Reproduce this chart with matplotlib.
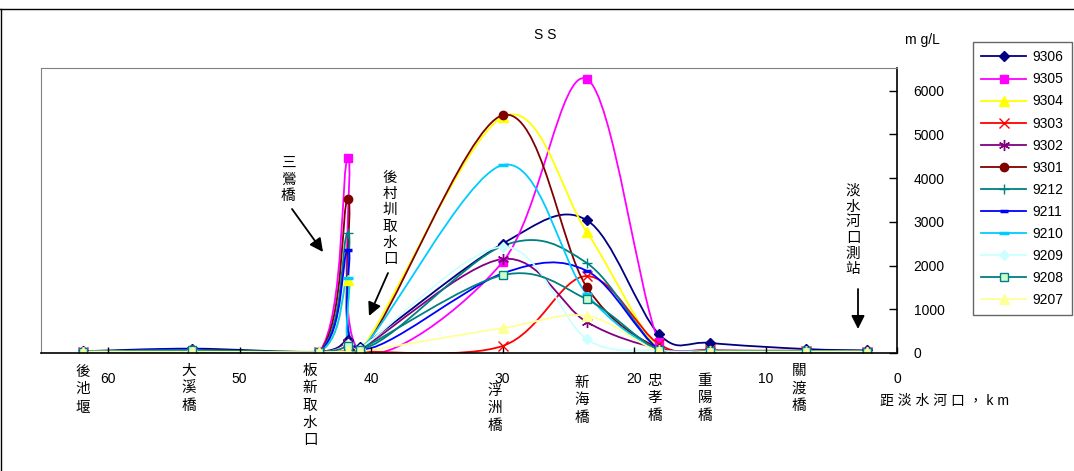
import matplotlib
matplotlib.use('Agg')
import matplotlib.pyplot as plt
import numpy as np
from matplotlib.path import Path
from matplotlib.patches import PathPatch
from matplotlib.lines import Line2D

plt.rcParams['font.family'] = ['Liberation Sans', 'Noto Sans CJK TC', 'DejaVu Sans']

# stations along the river, distance from the river mouth (km)
stations = ['後池堰', '大溪橋', '板新取水口', '三鶯橋', '後村圳取水口', '浮洲橋',
            '新海橋', '忠孝橋', '重陽橋', '關渡橋', '淡水河口測站']
km = [61.9, 53.6, 43.95, 41.75, 40.84, 30.0, 23.6, 18.1, 14.2, 6.9, 2.3]

# SS (mg/L) per sampling month, one value per station
ss_9306 = [40, 100, 30, 300, 130, 2500, 3040, 430, 230, 90, 60]
ss_9305 = [30, 50, 20, 4460, 50, 2080, 6270, 250, 50, 40, 30]
ss_9304 = [30, 60, 30, 1680, 60, 5400, 2770, 80, 50, 40, 30]
ss_9303 = [30, 30, 20, 50, 30, 160, 1760, 200, 60, 50, 30]
ss_9302 = [30, 60, 20, 250, 80, 2150, 710, 100, 60, 50, 40]
ss_9301 = [30, 50, 20, 3520, 60, 5440, 1510, 100, 50, 40, 30]
ss_9212 = [30, 60, 30, 2750, 100, 2450, 2060, 80, 40, 40, 30]
ss_9211 = [30, 80, 30, 2360, 80, 1820, 1880, 80, 40, 40, 30]
ss_9210 = [30, 60, 30, 1720, 80, 4300, 1350, 60, 40, 40, 30]
ss_9209 = [30, 50, 20, 200, 100, 2430, 320, 60, 40, 40, 30]
ss_9208 = [30, 60, 30, 150, 80, 1780, 1230, 60, 40, 40, 30]
ss_9207 = [30, 30, 20, 40, 30, 570, 850, 40, 30, 30, 30]

series = [
    ('9306', ss_9306, dict(color='#000080', marker='D', ms=5, mfc='#000080', mec='#000080')),
    ('9305', ss_9305, dict(color='#FF00FF', marker='s', ms=6, mfc='#FF00FF', mec='#FF00FF')),
    ('9304', ss_9304, dict(color='#FFFF00', marker='^', ms=7, mfc='#FFFF00', mec='#FFFF00')),
    ('9303', ss_9303, dict(color='#FF0000', marker='x', ms=7, mfc='#FF0000', mec='#FF0000')),
    ('9302', ss_9302, dict(color='#800080', marker=(6, 2, 0), ms=8, mfc='#800080', mec='#800080')),
    ('9301', ss_9301, dict(color='#800000', marker='o', ms=6, mfc='#800000', mec='#800000')),
    ('9212', ss_9212, dict(color='#008080', marker='+', ms=7, mfc='#008080', mec='#008080')),
    ('9211', ss_9211, dict(color='#0000FF', marker='_', ms=6, mfc='#0000FF', mec='#0000FF')),
    ('9210', ss_9210, dict(color='#00CCFF', marker='_', ms=7, mfc='#00CCFF', mec='#00CCFF')),
    ('9209', ss_9209, dict(color='#CCFFFF', marker='D', ms=5, mfc='#CCFFFF', mec='#CCFFFF')),
    ('9208', ss_9208, dict(color='#008080', marker='s', ms=6, mfc='#CCFFCC', mec='#008080')),
    ('9207', ss_9207, dict(color='#FFFF99', marker='^', ms=7, mfc='#FFFF99', mec='#FFFF99')),
]

W, H = 1074, 471


def fx(px):
    return px / W


def fy(py):
    return 1 - py / H


def smooth_path(x, y):
    # Excel style smoothed line: cubic bezier through the points
    pts = np.column_stack([x, y]).astype(float)
    n = len(pts)
    verts = [pts[0]]
    codes = [Path.MOVETO]
    for i in range(n - 1):
        p0 = pts[max(i - 1, 0)]
        p1 = pts[i]
        p2 = pts[i + 1]
        p3 = pts[min(i + 2, n - 1)]
        c1 = p1 + (p2 - p0) / 6.0
        c2 = p2 - (p3 - p1) / 6.0
        verts += [c1, c2, p2]
        codes += [Path.CURVE4] * 3
    return Path(verts, codes)


fig = plt.figure(figsize=(W / 100, H / 100), dpi=100)
ax = fig.add_axes([fx(41), fy(353), fx(897) - fx(41), fy(68) - fy(353)])

handles = []
for name, vals, st in series:
    patch = PathPatch(smooth_path(km, vals), facecolor='none', edgecolor=st['color'],
                      lw=1.3)
    ax.add_patch(patch)
    mew = 2.5 if st['marker'] == '_' else 1.0
    ax.plot(km, vals, linestyle='none', marker=st['marker'], ms=st['ms'],
            mfc=st['mfc'], mec=st['mec'], mew=mew)
    handles.append(Line2D([], [], color=st['color'], lw=1.3, marker=st['marker'],
                          ms=st['ms'], mfc=st['mfc'], mec=st['mec'], mew=mew))

ax.set_xlim(65.1, 0)
ax.set_ylim(0, 6520)
ax.set_xticks([60, 50, 40, 30, 20, 10, 0])
ax.set_xticklabels(['60', '50', '40', '30', '20', '10', '0'])
ax.set_yticks([0, 1000, 2000, 3000, 4000, 5000, 6000])
ax.yaxis.tick_right()
ax.tick_params(axis='y', direction='in', length=6, width=1, pad=12, labelsize=10)
ax.tick_params(axis='x', direction='in', length=4, width=1, pad=14, labelsize=10)
for lab in ax.get_yticklabels():
    lab.set_horizontalalignment('left')

ax.spines['left'].set_color('#808080')
ax.spines['top'].set_color('#808080')
ax.spines['bottom'].set_color('#000000')
ax.spines['right'].set_color('#000000')
ax.spines['bottom'].set_linewidth(1.2)
ax.spines['right'].set_linewidth(1.2)

cjk = ['Noto Sans CJK TC', 'DejaVu Sans']

# station names written vertically under the axis
label_px = [83, 189, 310, None, None, 495, 582, 655, 705, 799, None]
label_top = [365, 364, 364, None, None, 384, 376, 374, 374, 364, None]
for name, px, top in zip(stations, label_px, label_top):
    if px is None:
        continue
    fig.text(fx(px), fy(top), '\n'.join(name), ha='center', va='top',
             fontsize=10.5, linespacing=1.3, family=cjk)

# annotated stations with arrows
fig.text(fx(288), fy(156), '\n'.join('三鶯橋'), ha='center', va='top',
         fontsize=10.5, linespacing=1.25, family=cjk)
fig.text(fx(390), fy(171), '\n'.join('後村圳取水口'), ha='center', va='top',
         fontsize=10.5, linespacing=1.2, family=cjk)
fig.text(fx(853), fy(184), '\n'.join('淡水河口測站'), ha='center', va='top',
         fontsize=10.5, linespacing=1.15, family=cjk)

arrow = dict(arrowstyle='-|>', color='black', lw=1.3, mutation_scale=20,
             shrinkA=0, shrinkB=0)
ax.annotate('', xy=(fx(323), fy(252)), xycoords='figure fraction',
            xytext=(fx(292), fy(209)), textcoords='figure fraction', arrowprops=arrow)
ax.annotate('', xy=(fx(369), fy(316)), xycoords='figure fraction',
            xytext=(fx(388), fy(273)), textcoords='figure fraction', arrowprops=arrow)
ax.annotate('', xy=(fx(858), fy(329)), xycoords='figure fraction',
            xytext=(fx(858), fy(289)), textcoords='figure fraction', arrowprops=arrow)

fig.text(fx(545), fy(35), 'S S', ha='center', va='center', fontsize=10)
fig.text(fx(905), fy(40), 'm g/L', ha='left', va='center', fontsize=10)
fig.text(fx(880), fy(401), '距 淡 水 河 口 ， k m', ha='left', va='center',
         fontsize=10, family=['Liberation Sans', 'Noto Sans CJK TC'])

leg = fig.legend(handles, [s[0] for s in series], loc='upper left',
                 bbox_to_anchor=(fx(973), fy(42)), frameon=True, fancybox=False,
                 fontsize=10, handlelength=3.2, labelspacing=0.58,
                 handletextpad=0.5, borderpad=0.6, borderaxespad=0)
leg.get_frame().set_edgecolor('#404040')
leg.get_frame().set_linewidth(1.0)

# outer chart border
fig.add_artist(Line2D([0, 1], [fy(8.5), fy(8.5)], color='black', lw=1))
fig.add_artist(Line2D([fx(0.5), fx(0.5)], [0, fy(8.5)], color='black', lw=1))

fig.savefig('out.png', dpi=100)
